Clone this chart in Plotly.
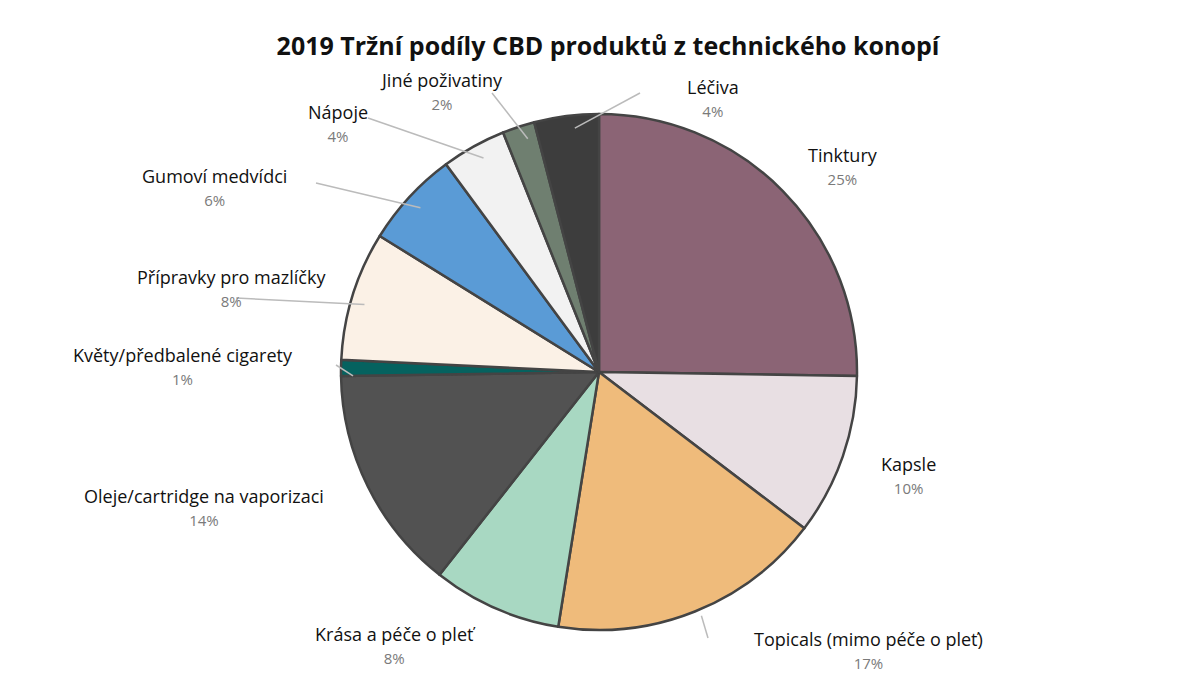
import math
import plotly.graph_objects as go

labels = ["Tinktury", "Kapsle", "Topicals (mimo péče o pleť)", "Krása a péče o pleť",
          "Oleje/cartridge na vaporizaci", "Květy/předbalené cigarety",
          "Přípravky pro mazlíčky", "Gumoví medvídci", "Nápoje", "Jiné poživatiny", "Léčiva"]
values = [25, 10, 17, 8, 14, 1, 8, 6, 4, 2, 4]
colors = ["#8b6475", "#e8dfe3", "#efbb7b", "#a8d8c2", "#525252", "#05625f",
          "#fbf1e6", "#5a9bd6", "#f2f2f2", "#6f7f70", "#3d3d3d"]

W, H = 1200, 691
cx, cy, r = 599, 372, 258
dx, dy = -8, -8  # plotly placement correction
label_pos = [(835, 158), (900, 467), (860, 642), (388, 637), (196, 499), (175, 358),
             (223, 280), (206, 179), (330, 115), (433, 83), (705, 90)]
leader_end = [None, None, (700, 630), None, None, (328, 357), (228, 290), (308, 175),
              (360, 110), (484, 85), (632, 85)]

fig = go.Figure(go.Pie(
    labels=labels, values=values, sort=False, direction="clockwise", rotation=0,
    marker=dict(colors=colors, line=dict(color="#444444", width=2.5)),
    textinfo="none", hoverinfo="label+percent", showlegend=False,
    domain=dict(x=[(cx + dx - r) / W, (cx + dx + r) / W],
                y=[1 - (cy + dy + r) / H, 1 - (cy + dy - r) / H]),
))

total = sum(values)
cum = 0
shapes, annotations = [], []
for lab, v, (lx, ly), end in zip(labels, values, label_pos, leader_end):
    f = (cum + v / 2) / total
    cum += v
    pct = round(100 * v / total)
    annotations.append(dict(
        x=lx / W, y=1 - ly / H, xref="paper", yref="paper", showarrow=False,
        text=f"{lab}<br><span style='font-size:15px;color:#7a7a7a'>{pct}%</span>",
        font=dict(size=18, color="#111111", family="Open Sans, sans-serif"),
        align="center", xanchor="center", yanchor="middle"))
    if end:
        ex = cx + (r - 4) * math.sin(2 * math.pi * f)
        ey = cy - (r - 4) * math.cos(2 * math.pi * f)
        shapes.append(dict(type="line", xref="paper", yref="paper",
                           x0=ex / W, y0=1 - ey / H, x1=end[0] / W, y1=1 - end[1] / H,
                           line=dict(color="#bbbbbb", width=1.5)))

fig.update_layout(
    width=W, height=H, margin=dict(l=0, r=0, t=0, b=0),
    paper_bgcolor="white", plot_bgcolor="white",
    title=dict(text="<b>2019 Tržní podíly CBD produktů z technického konopí</b>",
               x=0.5, y=1 - 38 / H, xanchor="center", yanchor="middle",
               font=dict(size=25, color="#111111", family="Open Sans, sans-serif")),
    shapes=shapes, annotations=annotations,
)
fig.write_html("out.html")
